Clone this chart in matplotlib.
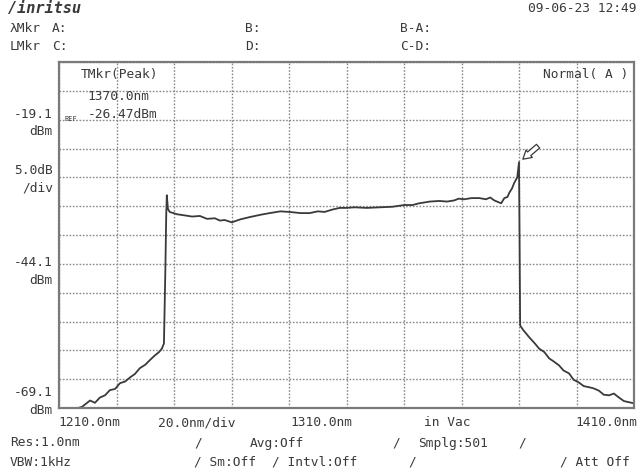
import numpy as np
import matplotlib.pyplot as plt

# spectrum trace (nm, dBm)
wavelength = [1213.8, 1215.9, 1218.0, 1220.8, 1222.5, 1224.2, 1226.0, 1227.7, 1229.5, 1231.2,
              1233.0, 1234.7, 1236.4, 1238.1, 1240.0, 1241.6, 1243.3, 1244.8, 1245.8, 1246.5,
              1247.0, 1247.3, 1247.5, 1247.9, 1248.5, 1251.0, 1253.7, 1256.3, 1259.0, 1261.5,
              1264.2, 1266.0, 1267.6, 1270.1, 1273.0, 1276.3, 1280.0, 1283.3, 1287.0, 1290.2,
              1294.0, 1297.2, 1300.0, 1302.4, 1305.0, 1307.6, 1310.0, 1312.8, 1317.0, 1321.5,
              1326.0, 1330.1, 1333.0, 1335.3, 1339.0, 1342.3, 1345.0, 1347.5, 1349.0, 1351.0,
              1353.5, 1356.2, 1358.5, 1360.0, 1361.4, 1362.8, 1363.8, 1364.9, 1366.0, 1366.6,
              1367.6, 1368.3, 1369.4, 1370.0, 1370.2, 1370.4, 1371.5, 1373.5, 1375.5, 1377.0,
              1378.8, 1380.5, 1382.0, 1383.9, 1385.5, 1387.4, 1389.0, 1390.9, 1392.5, 1394.4,
              1396.0, 1397.8, 1399.5, 1401.3, 1403.0, 1404.8, 1406.5, 1408.3, 1410.0]
power = [-69.6, -69.2, -68.9, -67.8, -68.2, -67.3, -66.9, -66.0, -65.8, -64.8,
         -64.5, -63.8, -63.2, -62.2, -61.6, -60.8, -60.0, -59.4, -58.8, -57.9,
         -45.0, -35.5, -32.2, -34.6, -35.1, -35.5, -35.7, -35.9, -35.8, -36.3,
         -36.2, -36.6, -36.5, -36.9, -36.4, -36.0, -35.6, -35.3, -35.0, -35.1,
         -35.3, -35.3, -35.0, -35.1, -34.7, -34.4, -34.4, -34.3, -34.4, -34.3,
         -34.2, -33.9, -33.9, -33.6, -33.3, -33.2, -33.3, -33.1, -32.8, -32.9,
         -32.7, -32.7, -32.9, -32.6, -33.1, -33.4, -33.6, -32.7, -32.5, -31.8,
         -31.0, -30.1, -29.1, -26.47, -40.0, -54.8, -55.6, -56.8, -57.9, -58.8,
         -59.4, -60.5, -61.0, -61.7, -62.6, -63.1, -64.2, -64.7, -65.3, -65.5,
         -65.7, -66.1, -66.8, -66.9, -66.6, -67.3, -67.9, -68.1, -68.3]

x_ticks = [1210.0, 1310.0, 1410.0]
ref_level = -19.1
db_per_div = 5.0
nm_per_div = 20.0
peak_nm = 1370.0
peak_dbm = -26.47

ink = '#3a3a3a'
mono = 'DejaVu Sans Mono'
fs = 9.3

fig = plt.figure(figsize=(6.4, 4.74), dpi=100)
ax = fig.add_axes([59 / 640, 1 - 408 / 474, 575 / 640, 346 / 474])

ax.set_xlim(x_ticks[0], x_ticks[-1])
ax.set_ylim(ref_level - 10 * db_per_div, ref_level + 2 * db_per_div)
ax.set_xticks(np.arange(x_ticks[0], x_ticks[-1] + 0.1, nm_per_div))
ax.set_yticks(np.arange(ref_level - 10 * db_per_div, ref_level + 2 * db_per_div + 0.1, db_per_div))
ax.tick_params(length=0, labelbottom=False, labelleft=False)
ax.grid(True, color='#8a8a8a', linestyle=(0, (1.2, 1.2)), linewidth=1.0)
for s in ax.spines.values():
    s.set_color('#7a7a7a')
    s.set_linewidth(1.6)

ax.plot(wavelength, power, color=ink, linewidth=1.3, clip_on=True)

# peak marker arrow
ax.annotate('', xy=(peak_nm + 0.6, peak_dbm + 0.2), xytext=(14, 12), textcoords='offset points',
            arrowprops=dict(arrowstyle='simple,head_length=0.6,head_width=0.7,tail_width=0.35',
                            facecolor='white', edgecolor=ink, linewidth=0.9))

# in-plot texts
ax.text(0.037, 0.965, 'TMkr(Peak)', transform=ax.transAxes, fontsize=fs, family=mono,
        color=ink, va='center')
ax.text(0.05, 0.9, f'{peak_nm:.1f}nm', transform=ax.transAxes, fontsize=fs, family=mono,
        color=ink, va='center')
ax.text(0.01, 0.835, 'REF', transform=ax.transAxes, fontsize=5, family=mono,
        color=ink, va='center')
ax.text(0.05, 0.848, f'{peak_dbm:.2f}dBm', transform=ax.transAxes, fontsize=fs, family=mono,
        color=ink, va='center')
ax.text(0.99, 0.965, 'Normal( A )', transform=ax.transAxes, fontsize=fs, family=mono,
        color=ink, va='center', ha='right')


def ftext(x, y, s, **kw):
    kw.setdefault('fontsize', fs)
    fig.text(x / 640, 1 - y / 474, s, family=mono, color=ink, va='center', **kw)


# header
ftext(8, 8, '/inritsu', fontsize=11, fontweight='bold', style='italic')
ftext(636, 8, '09-06-23 12:49', ha='right')
ftext(10, 28, '\u03bbMkr')
ftext(52, 28, 'A:')
ftext(245, 28, 'B:')
ftext(400, 28, 'B-A:')
ftext(10, 46, 'LMkr')
ftext(52, 46, 'C:')
ftext(245, 46, 'D:')
ftext(400, 46, 'C-D:')

# y labels
ftext(53, 114, f'{ref_level:.1f}', ha='right')
ftext(53, 131, 'dBm', ha='right')
ftext(53, 171, f'{db_per_div:.1f}dB', ha='right')
ftext(53, 188, '/div', ha='right')
ftext(53, 263, f'{ref_level - 5 * db_per_div:.1f}', ha='right')
ftext(53, 281, 'dBm', ha='right')
ftext(53, 392, f'{ref_level - 10 * db_per_div:.1f}', ha='right')
ftext(53, 410, 'dBm', ha='right')

# x labels
ftext(58, 423, f'{x_ticks[0]:.1f}nm')
ftext(158, 423, f'{nm_per_div:.1f}nm/div')
ftext(290, 423, f'{x_ticks[1]:.1f}nm')
ftext(424, 423, 'in Vac')
ftext(637, 423, f'{x_ticks[2]:.1f}nm', ha='right')

# settings rows
ftext(10, 443, 'Res:1.0nm')
ftext(194, 443, '/')
ftext(250, 443, 'Avg:Off')
ftext(392, 443, '/')
ftext(418, 443, 'Smplg:501')
ftext(518, 443, '/')
ftext(10, 462, 'VBW:1kHz')
ftext(194, 462, '/ Sm:Off')
ftext(272, 462, '/ Intvl:Off')
ftext(408, 462, '/')
ftext(560, 462, '/ Att Off')

fig.savefig('out.png', dpi=100)
